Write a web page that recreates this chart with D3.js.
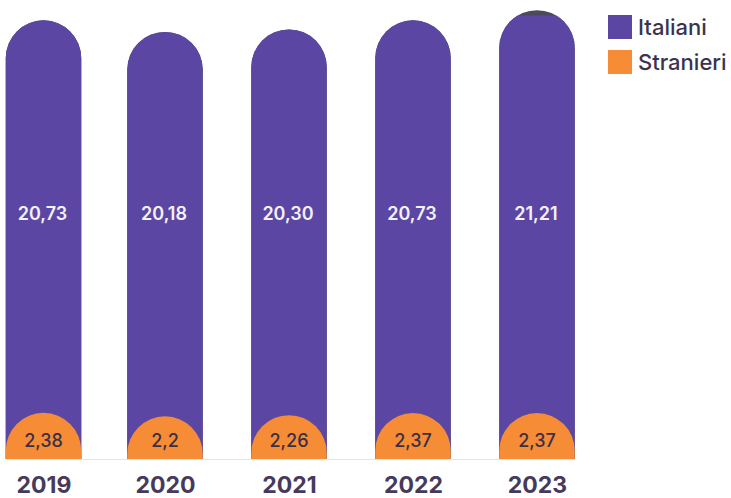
<!DOCTYPE html>
<html lang="it">
<head>
<meta charset="utf-8">
<title>Italiani e stranieri</title>
<script src="https://cdn.jsdelivr.net/npm/d3@7/dist/d3.min.js"></script>
<style>
  html, body { margin: 0; background: #fff; }
  svg { display: block; font-family: Inter, "Liberation Sans", sans-serif; }
</style>
</head>
<body>
<svg id="chart" width="731" height="498"></svg>
<script>
const years = ["2019", "2020", "2021", "2022", "2023"];
const italiani = [20.73, 20.18, 20.30, 20.73, 21.21];
const stranieri = [2.38, 2.2, 2.26, 2.37, 2.37];
const italianiLabels = ["20,73", "20,18", "20,30", "20,73", "21,21"];
const stranieriLabels = ["2,38", "2,2", "2,26", "2,37", "2,37"];
const legendNames = ["Italiani", "Stranieri"];

const PURPLE = "#5b47a3";
const ORANGE = "#f68c35";
const INK = "#463a5c";
const baseline = 459;
const barWidth = 75.5;
const radius = barWidth / 2;

const svg = d3.select("#chart");

// The columns are not evenly spaced, so each year has its own centre.
const x = d3.scaleOrdinal().domain(years).range([43.5, 165, 289, 413, 537]);
// Each column's height is proportional to its value; the two series overlap from the baseline.
const yItaliani = d3.scaleLinear().domain([0, 25]).range([baseline, baseline - 529]);
const yStranieri = d3.scaleLinear().domain([0, 25]).range([baseline, baseline - 485]);

// Column with a fully rounded top and a square foot.
function capsule(cx, top) {
  const l = cx - barWidth / 2, r = cx + barWidth / 2;
  const p = d3.path();
  p.moveTo(l, baseline);
  p.lineTo(l, top + radius);
  p.arc(cx, top + radius, radius, Math.PI, 0);
  p.lineTo(r, baseline);
  p.closePath();
  return p.toString();
}

const rows = years.map((year, i) => ({
  year, it: italiani[i], st: stranieri[i], itLabel: italianiLabels[i], stLabel: stranieriLabels[i]
}));

// Anything rising above the top edge of the plot is printed as a dark sliver.
svg.append("defs").append("clipPath").attr("id", "plot-top")
  .append("rect").attr("x", 0).attr("y", 15.5).attr("width", 731).attr("height", 483);

svg.append("line")
  .attr("x1", 6).attr("x2", 575)
  .attr("y1", baseline + 0.5).attr("y2", baseline + 0.5)
  .attr("stroke", "#e6e4e8").attr("stroke-width", 1);

svg.append("g").selectAll("path").data(rows).join("path")
  .attr("d", d => capsule(x(d.year), yItaliani(d.it)))
  .attr("fill", "#4b4a5c");

svg.append("g").attr("clip-path", "url(#plot-top)")
  .selectAll("path").data(rows).join("path")
  .attr("d", d => capsule(x(d.year), yItaliani(d.it)))
  .attr("fill", PURPLE);

svg.append("g").selectAll("path").data(rows).join("path")
  .attr("d", d => capsule(x(d.year), yStranieri(d.st)))
  .attr("fill", ORANGE);

svg.append("g").selectAll("text").data(rows).join("text")
  .attr("x", d => x(d.year) - 1).attr("y", 213)
  .attr("text-anchor", "middle").attr("dominant-baseline", "central")
  .attr("font-size", 18).attr("font-weight", 600).attr("fill", "#f4f1fa")
  .text(d => d.itLabel);

svg.append("g").selectAll("text").data(rows).join("text")
  .attr("x", d => x(d.year)).attr("y", 440)
  .attr("text-anchor", "middle").attr("dominant-baseline", "central")
  .attr("font-size", 18).attr("font-weight", 500).attr("fill", "#3a2f45")
  .text(d => d.stLabel);

// Year labels along the bottom, kept clear of the page edge.
const axis = svg.append("g")
  .attr("transform", `translate(0,${baseline + 17.5})`)
  .call(d3.axisBottom(x).tickSize(0).tickPadding(0));
axis.select(".domain").remove();
axis.selectAll("text")
  .attr("font-family", "Inter, 'Liberation Sans', sans-serif")
  .attr("font-size", 23).attr("font-weight", 700).attr("fill", INK);

// Legend at the top right.
const legendColor = d3.scaleOrdinal().domain(legendNames).range([PURPLE, ORANGE]);
const legendY = d3.scalePoint().domain(legendNames).range([27, 62]);
const legend = svg.append("g").selectAll("g").data(legendNames).join("g")
  .attr("transform", d => `translate(608,${legendY(d)})`);
legend.append("rect")
  .attr("x", 0).attr("y", -12).attr("width", 24).attr("height", 24)
  .attr("fill", d => legendColor(d));
legend.append("text")
  .attr("x", 30).attr("y", 0).attr("dominant-baseline", "central")
  .attr("font-size", 22).attr("font-weight", 500).attr("fill", "#3a3350")
  .text(d => d);
</script>
</body>
</html>
